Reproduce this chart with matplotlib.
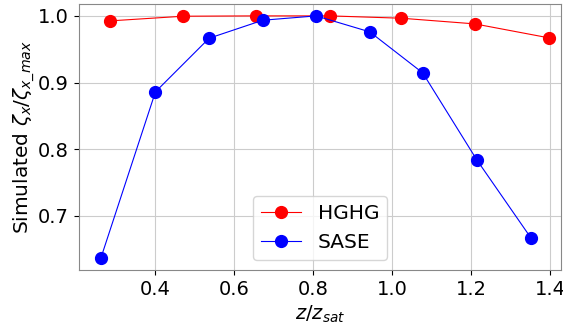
import matplotlib
matplotlib.use("Agg")
import matplotlib.pyplot as plt

hghg_x = [0.285, 0.470, 0.654, 0.842, 1.023, 1.209, 1.397]
hghg_y = [0.9925, 0.9995, 1.0, 1.0, 0.9965, 0.988, 0.967]
sase_x = [0.262, 0.400, 0.536, 0.672, 0.807, 0.943, 1.077, 1.214, 1.351]
sase_y = [0.637, 0.886, 0.9665, 0.9935, 1.0, 0.976, 0.9145, 0.784, 0.667]

fig = plt.figure(figsize=(5.63, 3.24), dpi=100)
ax = fig.add_axes([0.140, 0.167, 0.857, 0.821])
ax.plot(hghg_x, hghg_y, '-o', color='red', lw=0.8, ms=8.5, label='HGHG')
ax.plot(sase_x, sase_y, '-o', color='blue', lw=0.8, ms=8.5, label='SASE')
ax.set_xlim(0.206, 1.428)
ax.set_ylim(0.619, 1.018)
ax.set_xticks([0.4, 0.6, 0.8, 1.0, 1.2, 1.4])
ax.set_yticks([0.7, 0.8, 0.9, 1.0])
ax.tick_params(labelsize=14)
ax.grid(True, color='#cccccc', lw=0.8)
ax.set_xlabel(r'$z/z_{sat}$', fontsize=14)
ax.set_ylabel(r'Simulated $\zeta_x/\zeta_{x\_max}$', fontsize=14.5, labelpad=1)
ax.legend(loc='lower center', fontsize=14.5)
for s in ax.spines.values():
    s.set_color('#888888')
fig.savefig('out.png', dpi=100)
